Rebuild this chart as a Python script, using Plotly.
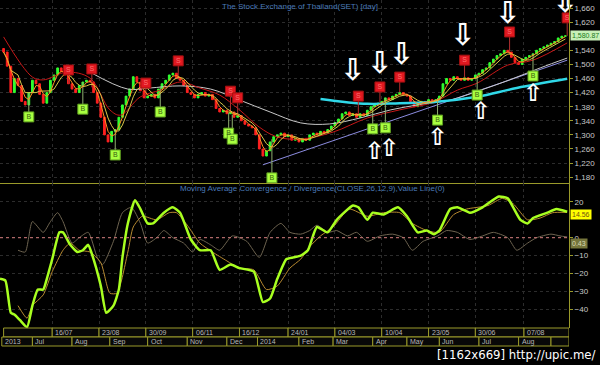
import numpy as np
import pandas as pd
import plotly.graph_objects as go

# ---------------- data (x = trading-session index) ----------------
day_idx = list(range(2, 316, 2))
closes = [1535, 1495, 1420, 1460, 1440, 1395, 1385, 1420, 1455, 1445,
          1415, 1390, 1420, 1455, 1470, 1490, 1480, 1470, 1445, 1430,
          1420, 1440, 1450, 1455, 1450, 1420, 1390, 1350, 1300, 1280,
          1310, 1315, 1350, 1385, 1410, 1430, 1465, 1450, 1425, 1405,
          1410, 1415, 1405, 1430, 1445, 1455, 1470, 1475, 1460, 1455,
          1440, 1420, 1415, 1405, 1415, 1420, 1410, 1415, 1400, 1375,
          1365, 1370, 1360, 1365, 1350, 1355, 1340, 1330, 1325, 1320,
          1300, 1260, 1240, 1255, 1280, 1295, 1300, 1305, 1295, 1300,
          1285, 1290, 1280, 1290, 1285, 1300, 1305, 1300, 1310, 1305,
          1315, 1325, 1335, 1345, 1360, 1365, 1355, 1360, 1350, 1360,
          1355, 1370, 1380, 1385, 1390, 1395, 1405, 1400, 1410, 1415,
          1420, 1415, 1410, 1395, 1380, 1390, 1395, 1390, 1400, 1395,
          1400, 1410, 1445, 1460, 1455, 1465, 1460, 1455, 1462, 1455,
          1460, 1470, 1475, 1485, 1490, 1505, 1515, 1525, 1530, 1540,
          1535, 1520, 1505, 1500, 1515, 1520, 1525, 1530, 1540, 1545,
          1550, 1555, 1560, 1565, 1575, 1580, 1580.87]
first_open = 1545

red_ma_idx = [2, 18, 24, 37, 50, 61, 67, 78, 89, 100, 111, 122, 133, 144, 154, 167, 185, 204, 222, 241, 254, 265, 282, 296, 315]
red_ma_val = [1578, 1464, 1456, 1478, 1461, 1371, 1356, 1408, 1427, 1450, 1433, 1413, 1371, 1322, 1294, 1288, 1308, 1348, 1371, 1393, 1427, 1447, 1498, 1512, 1561]

gray_ma_idx = [50, 71, 83, 100, 117, 133, 150, 167, 183, 200, 217, 233, 250, 267, 283, 300, 315]
gray_ma_val = [1478, 1430, 1433, 1439, 1430, 1399, 1365, 1334, 1331, 1348, 1371, 1386, 1399, 1427, 1456, 1490, 1518]

cyan_idx = [178, 204, 222, 241, 265, 287, 315]
cyan_val = [1402, 1388, 1390, 1393, 1408, 1433, 1459]

trend_idx = [146, 315]
trend_val = [1215, 1512]

macd_idx = [0, 3, 6, 8, 11, 15, 18, 21, 24, 26, 29, 33, 35, 39, 43, 46, 49, 51, 56, 59, 63, 66, 68, 71, 75, 78, 82, 85,
            91, 96, 100, 106, 111, 117, 122, 128, 133, 141, 146, 150, 154, 159, 163, 167, 171, 176, 182, 187, 196, 199,
            204, 207, 213, 221, 226, 232, 237, 241, 244, 250, 254, 261, 268, 277, 282, 285, 289, 293, 296, 304, 309, 315]
macd_val = [-23, -24, -42, -43, -46, -50, -38, -29, -29, -23, -12, 3, 3, -4, -8, -7, -4, -9, -27, -42, -38, -29, -11, 8,
            21, 16, 8, 8, 14, 17, 14, -1, -7, -7, -18, -15, -17, -19, -36, -34, -23, -12, -11, -10, -7, 6, 3, 10, 18, 17,
            10, 14, 13, 17, 12, 3, 4, 2, 4, 16, 17, 14, 17, 23, 22, 17, 10, 8, 11, 14, 16, 14.56]

signal_idx = [10, 15, 18, 24, 29, 35, 39, 44, 50, 56, 61, 65, 71, 74, 79, 87, 94, 98, 104, 111, 118, 126, 133, 141,
              148, 154, 161, 167, 172, 178, 185, 194, 204, 213, 222, 229, 237, 244, 252, 259, 271, 279, 285, 293, 300,
              307, 315]
signal_val = [-38, -45, -38, -32, -19, -7, -3, -7, -8, -14, -31, -31, -8, 6, 12, 10, 14, 14, 7, -3, -8, -13, -17, -18,
              -29, -27, -17, -12, -5, 1, 6, 16, 12, 14, 14, 8, 4, 3, 13, 16, 18, 22, 19, 10, 11, 14, 14.13]

vline_idx = [10, 14, 18, 24, 28, 32, 35, 40, 44, 49, 54, 57, 63, 68, 73, 78, 82, 87, 91, 96, 102, 107, 111, 117, 122,
             129, 137, 144, 150, 156, 161, 167, 172, 176, 182, 187, 193, 198, 204, 211, 218, 224, 229, 235, 243, 248,
             254, 261, 268, 274, 282, 287, 293, 298, 306, 311, 315]
vline_val = [-7, -8, 9, 3, 9, 14, 9, -3, 0, 3, -11, -15, -2, 14, 17, 8, -3, 0, 4, 0, -3, -8, -1, -4, -7,
             1, -2, -11, 3, 8, 3, 2, 4, 7, 3, 4, 1, 3, -2, 1, 2, 0, -7, -2, 1, 4,
             3, -1, 1, 3, 0, -7, -3, 0, 2, 1, 0.43]

buy_idx = [16, 46, 64, 89, 127, 129, 151, 207, 214, 243, 265, 296]
buy_val = [1351, 1373, 1243, 1365, 1305, 1288, 1178, 1317, 1320, 1342, 1413, 1467]
sell_idx = [38, 51, 81, 99, 128, 132, 199, 211, 222, 258, 283, 315]
sell_val = [1484, 1487, 1447, 1510, 1424, 1405, 1410, 1436, 1464, 1512, 1592, 1632]

down_arrow_idx = [196, 211, 223, 257, 282, 314]
down_arrow_val = [1478, 1498, 1521, 1575, 1638, 1671]
up_arrow_idx = [208, 216, 243, 267, 296]
up_arrow_val = [1250, 1256, 1287, 1362, 1414]

price_ticks = [1180, 1220, 1260, 1300, 1340, 1380, 1420, 1460, 1500, 1540, 1620, 1660]
macd_ticks = [-40, -30, -20, -10, 0, 20]
grid_tick_idx = [29, 55, 81, 107, 133, 160, 186, 212, 238, 264, 291]
grid_tick_labels = ["16/07", "23/08", "30/09", "06/11", "16/12", "24/01", "04/03", "10/04", "23/05", "30/06", "07/08"]
month_idx = [1, 18, 40, 61, 82, 104, 126, 143, 166, 185, 207, 226, 244, 266, 288, 306]
month_labels = ["2013", "Jul", "Aug", "Sep", "Oct", "Nov", "Dec", "2014", "Feb", "Mar", "Apr", "May", "Jun", "Jul", "Aug", ""]
x_end = 316

# ---------------- figure ----------------
opens = [first_open] + closes[:-1]
highs = [max(o, c) for o, c in zip(opens, closes)]
lows = [min(o, c) for o, c in zip(opens, closes)]
cs = pd.Series(closes)
ma_fast = cs.rolling(3, min_periods=1).mean()
ma_slow = cs.rolling(5, min_periods=1).mean()

fig = go.Figure()

fig.add_trace(go.Scatter(x=trend_idx, y=trend_val, mode="lines", line=dict(color="#8c8ce0", width=1)))
fig.add_trace(go.Scatter(x=gray_ma_idx, y=gray_ma_val, mode="lines", line=dict(color="#c8c8c8", width=1, shape="spline")))
fig.add_trace(go.Scatter(x=red_ma_idx, y=red_ma_val, mode="lines", line=dict(color="#c81818", width=1, shape="spline")))
fig.add_trace(go.Scatter(x=cyan_idx, y=cyan_val, mode="lines", line=dict(color="#30d8e8", width=2.5, shape="spline")))

def connectors(idx, val):
    xs, ys = [], []
    for i, v in zip(idx, val):
        p = float(np.interp(i, day_idx, closes))
        xs += [i, i, None]
        ys += [v, p, None]
    return xs, ys

bx, by = connectors(buy_idx, buy_val)
sx, sy = connectors(sell_idx, sell_val)
fig.add_trace(go.Scatter(x=bx, y=by, mode="lines", line=dict(color="#90b070", width=1)))
fig.add_trace(go.Scatter(x=sx, y=sy, mode="lines", line=dict(color="#b03030", width=1)))

fig.add_trace(go.Candlestick(x=day_idx, open=opens, high=highs, low=lows, close=closes,
                             increasing=dict(line=dict(color="#30ff30", width=1), fillcolor="#30ff30"),
                             decreasing=dict(line=dict(color="#ff2020", width=1), fillcolor="#ff2020"),
                             whiskerwidth=0))
fig.add_trace(go.Scatter(x=day_idx, y=ma_slow, mode="lines", line=dict(color="#d8c848", width=1)))
fig.add_trace(go.Scatter(x=day_idx, y=ma_fast, mode="lines", line=dict(color="#ff9020", width=1)))

fig.add_trace(go.Scatter(x=buy_idx, y=buy_val, mode="markers+text", text=["B"] * len(buy_idx),
                         marker=dict(symbol="square", size=10, color="#a8ff40", line=dict(color="#60a020", width=1)),
                         textfont=dict(color="#3a6010", size=7, family="Liberation Sans"), textposition="middle center"))
fig.add_trace(go.Scatter(x=sell_idx, y=sell_val, mode="markers+text", text=["S"] * len(sell_idx),
                         marker=dict(symbol="square", size=10, color="#e01820", line=dict(color="#a01010", width=1)),
                         textfont=dict(color="#ff7070", size=7, family="Liberation Sans"), textposition="middle center"))

fig.add_trace(go.Scatter(x=down_arrow_idx, y=down_arrow_val, mode="text", text=["\u21e9"] * len(down_arrow_idx),
                         textfont=dict(color="white", size=30, family="DejaVu Sans", weight="bold"), cliponaxis=False))
fig.add_trace(go.Scatter(x=up_arrow_idx, y=up_arrow_val, mode="text", text=["\u21e7"] * len(up_arrow_idx),
                         textfont=dict(color="white", size=24, family="DejaVu Sans", weight="bold"), cliponaxis=False))

fig.add_trace(go.Scatter(x=vline_idx, y=vline_val, mode="lines", xaxis="x2", yaxis="y2",
                         line=dict(color="#6e6450", width=1, shape="spline", smoothing=0.6)))
fig.add_trace(go.Scatter(x=signal_idx, y=signal_val, mode="lines", xaxis="x2", yaxis="y2",
                         line=dict(color="#b88a30", width=1, shape="spline", smoothing=0.6)))
fig.add_trace(go.Scatter(x=macd_idx, y=macd_val, mode="lines", xaxis="x2", yaxis="y2",
                         line=dict(color="#a8ff20", width=2.5, shape="spline", smoothing=0.5)))

H = 365.0
top_split = 1 - 183 / H
macd_bottom = 1 - 328 / H
row1_bot = 1 - 337 / H
row2_bot = 1 - 346 / H
frame = "#9a9a2a"
grid = "#2c2c2c"
tickfont = dict(color="#c8c8c8", size=8, family="Liberation Sans")

fig.update_layout(
    width=600, height=365, margin=dict(l=0, r=31, t=0, b=0),
    paper_bgcolor="black", plot_bgcolor="black", showlegend=False,
    xaxis=dict(domain=[0, 1], range=[0, x_end], anchor="y", tickvals=grid_tick_idx, showticklabels=False,
               showgrid=True, gridcolor=grid, griddash="dot", zeroline=False, showline=True, linecolor=frame,
               rangeslider=dict(visible=False), ticks=""),
    xaxis2=dict(domain=[0, 1], range=[0, x_end], anchor="y2", matches="x", tickvals=grid_tick_idx,
                showticklabels=False, showgrid=True, gridcolor=grid, griddash="dot", zeroline=False, ticks=""),
    yaxis=dict(domain=[top_split, 1], range=[1163.5, 1682.7], side="right", tickvals=price_ticks,
               tickformat=",d", tickfont=tickfont, showgrid=True, gridcolor=grid, griddash="dot", zeroline=False,
               showline=True, linecolor=frame, ticks="outside", ticklen=3, tickcolor=frame),
    yaxis2=dict(domain=[macd_bottom, top_split], range=[-50.5, 30.6], side="right", tickvals=macd_ticks,
                tickfont=tickfont, showgrid=True, gridcolor=grid, griddash="dot", zeroline=False,
                showline=True, linecolor=frame, ticks="outside", ticklen=3, tickcolor=frame),
)

shapes = []
shapes.append(dict(type="line", xref="x2", yref="y2", x0=0, x1=x_end, y0=0, y1=0,
                   line=dict(color="#d07878", width=1, dash="dot")))
row1_edges = [2] + grid_tick_idx + [x_end]
for a, b in zip(row1_edges[:-1], row1_edges[1:]):
    shapes.append(dict(type="rect", xref="x", yref="paper", x0=a, x1=b, y0=row1_bot, y1=macd_bottom,
                       line=dict(color=frame, width=1), fillcolor="#080808", layer="above"))
row2_edges = month_idx + [x_end]
for a, b in zip(row2_edges[:-1], row2_edges[1:]):
    shapes.append(dict(type="rect", xref="x", yref="paper", x0=a, x1=b, y0=row2_bot, y1=row1_bot,
                       line=dict(color=frame, width=1), fillcolor="#080808", layer="above"))
fig.update_layout(shapes=shapes)

ann = []
for i, lab in zip(grid_tick_idx, grid_tick_labels):
    ann.append(dict(x=i, y=(row1_bot + macd_bottom) / 2, xref="x", yref="paper", text=lab, showarrow=False,
                    xanchor="left", yanchor="middle", xshift=1, font=dict(color="#b8b8b8", size=7, family="Liberation Sans")))
for i, lab in zip(month_idx, month_labels):
    ann.append(dict(x=i, y=(row2_bot + row1_bot) / 2, xref="x", yref="paper", text=lab, showarrow=False,
                    xanchor="left", yanchor="middle", xshift=1, font=dict(color="#b8b8b8", size=7, family="Liberation Sans")))
ann.append(dict(x=0.527, y=1 - 6 / H, xref="paper", yref="paper", text="The Stock Exchange of Thailand(SET) [day]",
                showarrow=False, xanchor="center", yanchor="middle", font=dict(color="#4a7ab8", size=8, family="Liberation Sans")))
ann.append(dict(x=178 / 569, y=1 - 188 / H, xref="paper", yref="paper",
                text="Moving Average Convergence / Divergence(CLOSE,26,12,9),Value Line(0)",
                showarrow=False, xanchor="left", yanchor="middle", font=dict(color="#4a7ab8", size=8, family="Liberation Sans")))
ann.append(dict(x=1, y=closes[-1], xref="paper", yref="y", text="1,580.87", showarrow=False, xanchor="left",
                yanchor="middle", xshift=1, bgcolor="#c8f0b8", font=dict(color="#1a7a1a", size=7, family="Liberation Sans"),
                borderpad=1))
ann.append(dict(x=1, y=macd_val[-1], xref="paper", yref="y2", text="14.56", showarrow=False, xanchor="left",
                yanchor="middle", xshift=1, yshift=-3, bgcolor="#ffff00", font=dict(color="#705010", size=7, family="Liberation Sans"),
                borderpad=1))
ann.append(dict(x=1, y=vline_val[-1], xref="paper", yref="y2", text="0.43", showarrow=False, xanchor="left",
                yanchor="middle", xshift=1, yshift=-7, bgcolor="#76763c", font=dict(color="#d8d8b8", size=7, family="Liberation Sans"),
                borderpad=1))
ann.append(dict(x=1 + 28 / 569, y=0, xref="paper", yref="paper", text="[1162x669] http://upic.me/", showarrow=False,
                xanchor="right", yanchor="bottom", yshift=1, font=dict(color="white", size=13, family="DejaVu Sans Condensed")))
fig.update_layout(annotations=ann)

fig.write_html("out.html")
